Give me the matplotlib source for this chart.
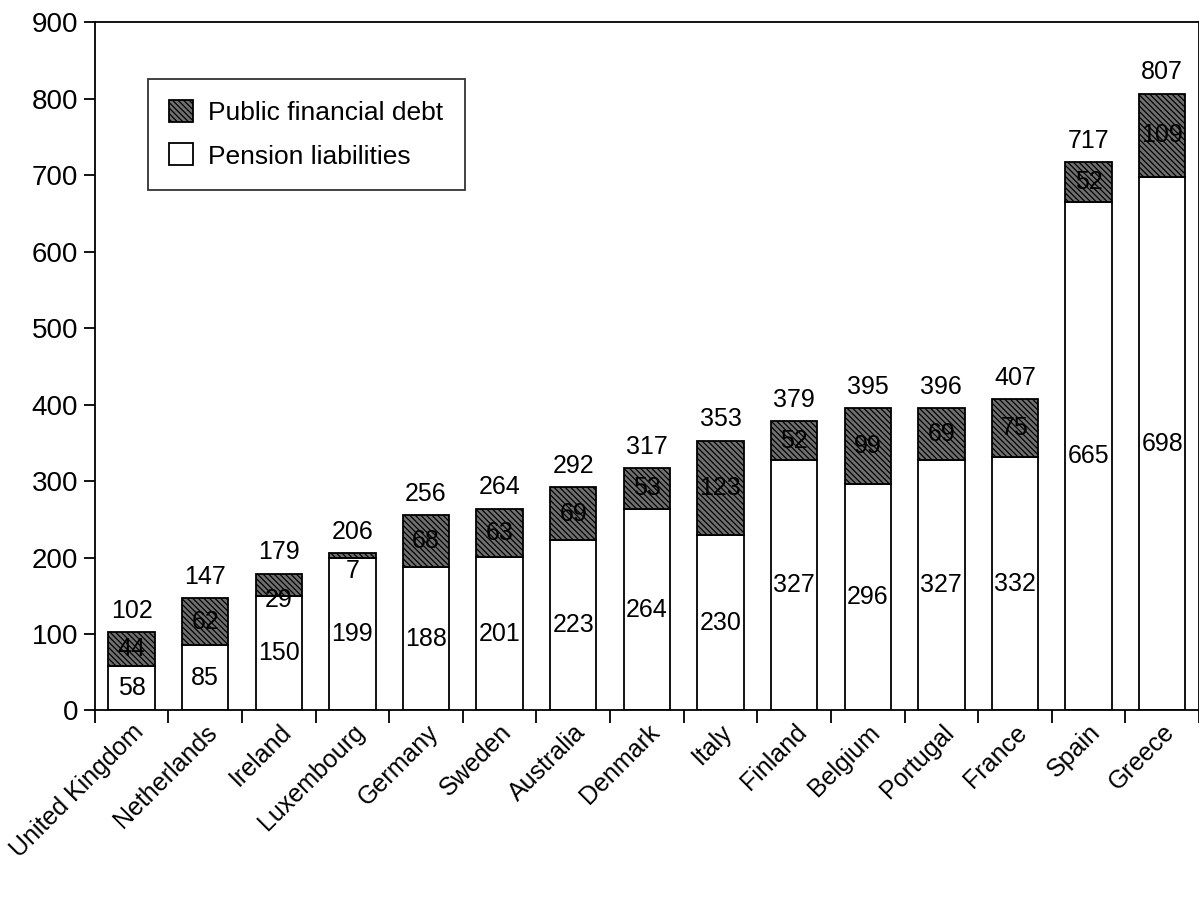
import matplotlib.pyplot as plt
import numpy as np

plt.rcParams['font.family'] = ['Liberation Sans', 'DejaVu Sans']
plt.rcParams['hatch.linewidth'] = 0.9

countries = ['United Kingdom', 'Netherlands', 'Ireland', 'Luxembourg', 'Germany',
             'Sweden', 'Australia', 'Denmark', 'Italy', 'Finland', 'Belgium',
             'Portugal', 'France', 'Spain', 'Greece']
pension = [58, 85, 150, 199, 188, 201, 223, 264, 230, 327, 296, 327, 332, 665, 698]
debt = [44, 62, 29, 7, 68, 63, 69, 53, 123, 52, 99, 69, 75, 52, 109]
totals = [102, 147, 179, 206, 256, 264, 292, 317, 353, 379, 395, 396, 407, 717, 807]

fig = plt.figure(figsize=(11.99, 8.97), dpi=100)
ax = fig.add_axes([0.079, 0.208, 0.921, 0.767])

x = np.arange(len(countries))
w = 0.63
ax.bar(x, pension, w, color='white', edgecolor='black', linewidth=1.3,
       label='Pension liabilities')
ax.bar(x, debt, w, bottom=pension, color='#707070', edgecolor='black',
       hatch='\\\\\\\\\\\\', linewidth=1.3, label='Public financial debt')

fs = 18
for i in range(len(countries)):
    ax.text(x[i], pension[i] / 2, str(pension[i]), ha='center', va='center', fontsize=fs)
    # small debt values are pushed down a little, like in the original
    if debt[i] < 40:
        yd = pension[i] + debt[i] / 2 - 20
    else:
        yd = pension[i] + debt[i] / 2
    ax.text(x[i], yd, str(debt[i]), ha='center', va='center', fontsize=fs)
    ax.text(x[i], totals[i] + 12, str(totals[i]), ha='center', va='bottom', fontsize=fs)

ax.set_xlim(-0.5, len(countries) - 0.5)
ax.set_ylim(0, 900)
ax.set_yticks(range(0, 901, 100))
ax.tick_params(axis='y', labelsize=20, length=8, width=1.3, direction='out', pad=4)

ax.set_xticks(x)
ax.set_xticklabels(countries, rotation=45, ha='right', rotation_mode='anchor', fontsize=18)
ax.set_xticks(np.arange(-0.5, len(countries)), minor=True)
ax.tick_params(axis='x', which='major', length=0, pad=7)
ax.tick_params(axis='x', which='minor', length=9, width=1.3, direction='out')

for s in ax.spines.values():
    s.set_linewidth(1.3)

handles, labels = ax.get_legend_handles_labels()
leg = ax.legend(handles[::-1], labels[::-1], loc='upper left', bbox_to_anchor=(0.048, 0.918),
                borderaxespad=0, fontsize=19, frameon=True, fancybox=False, edgecolor='black',
                handlelength=0.9, handleheight=0.9, handletextpad=0.6,
                borderpad=0.8, labelspacing=0.7)
leg.get_frame().set_linewidth(1.3)

plt.savefig('out.png', dpi=100)
plt.close()
